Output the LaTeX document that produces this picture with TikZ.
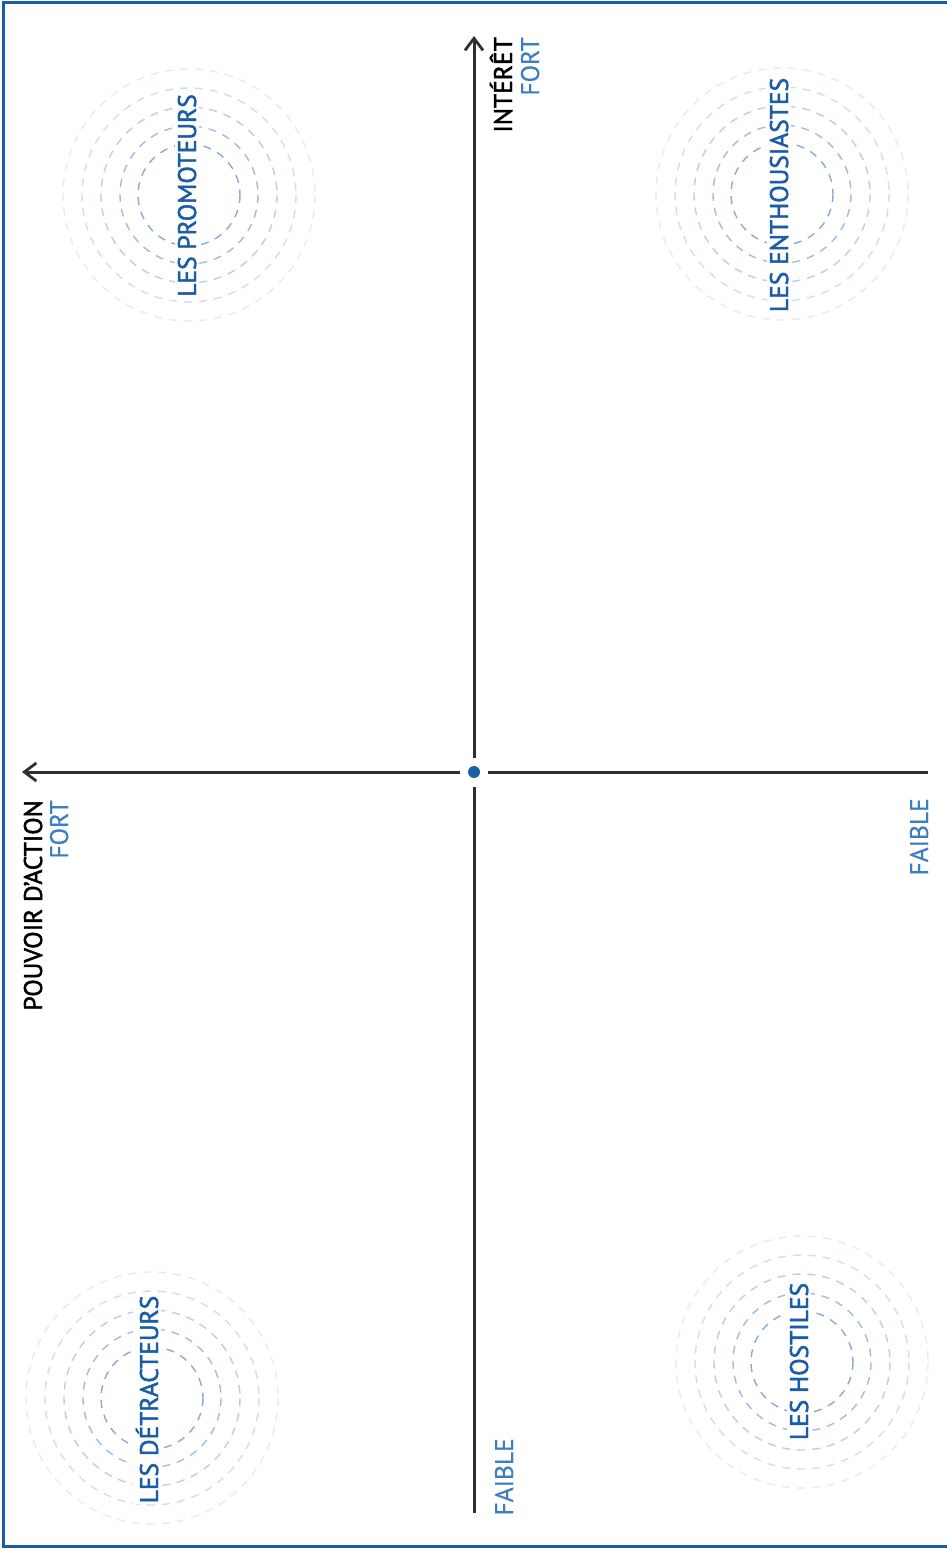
\documentclass[tikz,border=0pt]{standalone}
\usepackage{fontspec}
\setmainfont{PT Sans}
\newfontfamily\labfont[FakeBold=1.8]{PT Sans}
\newfontfamily\axfont[FakeBold=0.3]{PT Sans}
\usetikzlibrary{arrows.meta}
\definecolor{frameblue}{HTML}{1B5EA6}
\definecolor{labblue}{HTML}{1A5CA5}
\definecolor{lightblue}{HTML}{3C7EC2}
\definecolor{axisgray}{HTML}{2D3033}
\definecolor{ringA}{HTML}{86ABD8}
\definecolor{ringB}{HTML}{A0BDE1}
\definecolor{ringC}{HTML}{B9CEEA}
\definecolor{ringD}{HTML}{D0DEF0}
\definecolor{ringE}{HTML}{E3EBF5}
\tikzset{
  axisline/.style={draw=axisgray, line width=3pt},
  ring/.style={line width=1.4pt, dash pattern=on 8pt off 7pt},
  grouplabel/.style={rotate=90, inner xsep=1pt, inner ysep=3pt, fill=white, anchor=base, text=labblue, font=\labfont\fontsize{25.5}{25.5}\selectfont},
  axistitle/.style={rotate=90, inner sep=0pt, anchor=base east, text=black, font=\labfont\fontsize{25.5}{25.5}\selectfont},
  axislevel/.style={rotate=90, inner sep=0pt, anchor=base east, text=lightblue, font=\axfont\fontsize{25.5}{25.5}\selectfont},
}
\newcommand{\rings}[2]{%
  \draw[ring, ringE] (#1,#2) circle (126);
  \draw[ring, ringD] (#1,#2) circle (107);
  \draw[ring, ringC] (#1,#2) circle (88);
  \draw[ring, ringB] (#1,#2) circle (69);
  \draw[ring, ringA] (#1,#2) circle (51);
}
\begin{document}
\begin{tikzpicture}[x=1pt,y=-1pt]
\useasboundingbox (0,0) rectangle (947,1549);
% frame
\draw[frameblue, line width=3pt] (948,2.5) -- (3,2.5) -- (3,1546) -- (948,1546);
% rings
\rings{189}{195}
\rings{782}{194}
\rings{152}{1398}
\rings{802}{1362}
% axes
\coordinate (O) at (474,772);
\coordinate (ytop) at (474,36);
\coordinate (ybot) at (474,1513);
\coordinate (xleft) at (22,772);
\coordinate (xright) at (928,772);
\coordinate (gN) at (474,758);
\coordinate (gS) at (474,787);
\coordinate (gW) at (460,772);
\coordinate (gE) at (488,772);
\draw[axisline, -{Straight Barb[length=12pt,width=18pt,line width=2.8pt]}] (gN) -- (ytop);
\draw[axisline] (gS) -- (ybot);
\draw[axisline, -{Straight Barb[length=12pt,width=18pt,line width=2.8pt]}] (gW) -- (xleft);
\draw[axisline] (gE) -- (xright);
\fill[frameblue] (O) circle (6);
% axis labels
\node[axistitle] (interet) at (512,37) {INTÉRÊT};
\node[axislevel] (fortY) at (539,37) {FORT};
\node[axistitle] (pouvoir) at (42,800) {POUVOIR D’ACTION};
\node[axislevel] (fortX) at (68,800) {FORT};
\node[axislevel] (faibleX) at (928,798) {FAIBLE};
\node[axislevel] (faibleY) at (513,1438) {FAIBLE};
% group labels
\node[grouplabel] (prom) at (196,195.5) {LES PROMOTEURS};
\node[grouplabel] (enth) at (788,195) {LES ENTHOUSIASTES};
\node[grouplabel] (detr) at (158,1399.5) {LES DÉTRACTEURS};
\node[grouplabel] (host) at (808,1361.5) {LES HOSTILES};
\end{tikzpicture}
\end{document}
